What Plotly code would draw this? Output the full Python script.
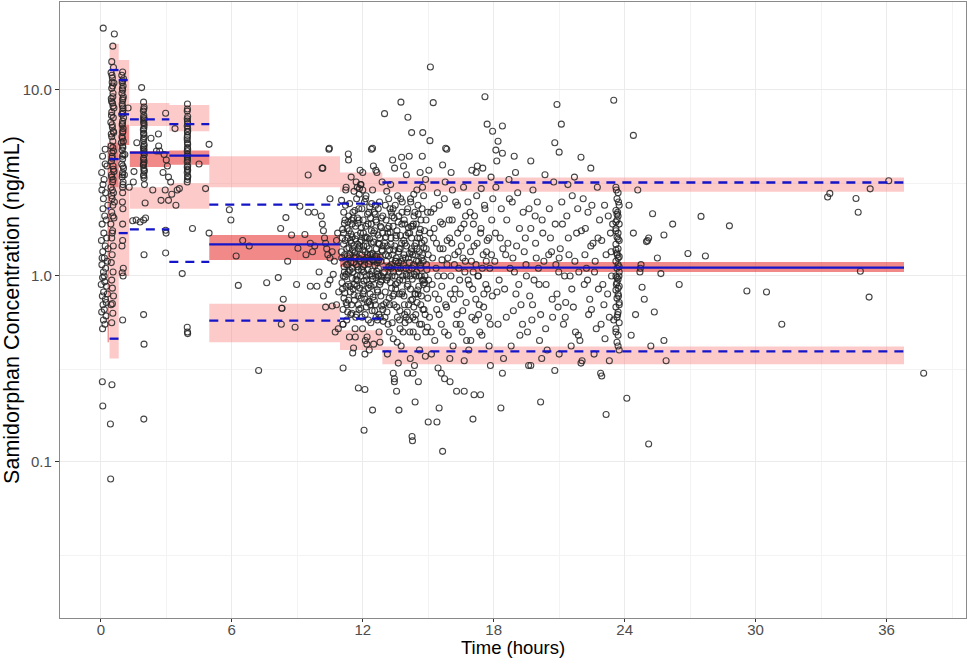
import plotly.graph_objects as go

# ---- binned VPC summary (hours, ng/mL) ----
bin_lo = [0.31, 0.40, 0.82, 1.33, 3.14, 4.97, 10.96, 12.90]
bin_hi = [0.37, 0.82, 1.30, 3.14, 4.97, 10.96, 12.90, 36.80]

# simulated CI of 95th percentile
ci95_lo = [None, 5.2, 6.5, 6.4, 6.0, 3.0, 2.84, 2.84]
ci95_hi = [None, 17.7, 14.5, 8.5, 8.3, 4.4, 3.6, 3.38]
# simulated CI of median
cimed_lo = [0.44, 3.0, 5.06, 3.85, 3.96, 1.22, 1.12, 1.05]
cimed_hi = [5.2, 5.2, 6.5, 4.7, 4.72, 1.66, 1.31, 1.19]
# simulated CI of 5th percentile
ci05_lo = [None, 0.36, 1.0, 2.3, 2.3, 0.44, 0.40, 0.335]
ci05_hi = [None, 3.0, 3.0, 3.0, 3.15, 0.71, 0.51, 0.417]

# observed percentiles
obs_p95 = [None, 12.8, 11.3, 6.95, 6.56, 2.42, 2.45, 3.18]
obs_med = [2.3, 4.25, 7.4, 4.6, 4.44, 1.48, 1.23, 1.11]
obs_p05 = [None, 0.46, 1.7, 1.78, 1.19, 0.575, 0.59, 0.393]

# ---- observed concentrations (time, conc) ----
pts_predose = [
    (0.11, 21.5), (0.04, 3.6), (0.08, 4.4), (0.15, 3.3), (0.2, 4.0), (0.05, 2.9), (0.12, 2.6),
    (0.22, 2.8), (0.28, 3.9), (0.1, 2.3), (0.18, 2.1), (0.06, 1.9), (0.25, 2.0), (0.14, 1.7),
    (0.03, 1.55), (0.2, 1.45), (0.09, 1.35), (0.27, 1.6), (0.16, 1.25), (0.05, 1.15), (0.22, 1.1),
    (0.12, 1.05), (0.3, 1.2), (0.08, 0.98), (0.18, 0.93), (0.02, 0.9), (0.26, 0.88), (0.13, 0.82),
    (0.07, 0.78), (0.21, 0.75), (0.1, 0.7), (0.16, 0.66), (0.04, 0.64), (0.24, 0.61), (0.12, 0.58),
    (0.19, 0.55), (0.08, 0.52), (0.3, 0.8), (0.33, 1.4), (0.32, 2.4), (0.06, 1.25), (0.15, 1.0),
    (0.25, 0.72), (0.1, 3.1), (0.2, 4.8), (0.07, 0.27), (0.09, 0.2), (0.51, 0.26), (0.44, 0.16),
    (0.45, 0.081),
]
pts_half = [
    (0.62, 20.0), (0.55, 17.2), (0.5, 14.2), (0.58, 13.2), (0.47, 12.4), (0.53, 11.6), (0.6, 10.9),
    (0.5, 10.2), (0.56, 9.6), (0.48, 9.0), (0.54, 8.5), (0.6, 8.0), (0.5, 7.6), (0.57, 7.1),
    (0.46, 6.7), (0.53, 6.3), (0.59, 5.9), (0.5, 5.6), (0.55, 5.3), (0.47, 5.0), (0.58, 4.7),
    (0.52, 4.4), (0.49, 4.15), (0.56, 3.9), (0.6, 3.65), (0.5, 3.4), (0.54, 3.2), (0.47, 3.0),
    (0.58, 2.8), (0.52, 2.6), (0.55, 2.4), (0.5, 2.2), (0.6, 2.05), (0.46, 1.9), (0.54, 1.75),
    (0.5, 1.6), (0.57, 1.45), (0.52, 1.3), (0.48, 1.18), (0.56, 1.05), (0.5, 0.95), (0.53, 0.86),
    (0.58, 0.78), (0.47, 0.7), (0.55, 0.63), (0.5, 0.56), (0.52, 11.0), (0.55, 9.2), (0.49, 7.3),
    (0.57, 6.0), (0.51, 4.6), (0.56, 3.3), (0.62, 2.5), (0.53, 0.71),
    (0.51, 12.0), (0.54, 10.5), (0.49, 8.7), (0.56, 8.2), (0.52, 6.5), (0.48, 5.8), (0.55, 4.9),
    (0.51, 4.3), (0.57, 3.75), (0.49, 3.5), (0.53, 2.9), (0.5, 2.7), (0.55, 2.1), (0.52, 1.7),
]
pts_1h = [
    (1.0, 12.5), (0.96, 12.0), (1.04, 11.5), (0.98, 11.0), (1.02, 10.5), (1.0, 10.0), (0.97, 9.6),
    (1.03, 9.2), (1.0, 8.8), (0.98, 8.4), (1.02, 8.0), (1.0, 7.7), (0.96, 7.4), (1.04, 7.1),
    (1.0, 6.8), (0.98, 6.5), (1.02, 6.2), (1.0, 5.9), (0.97, 5.6), (1.03, 5.3), (1.0, 5.0),
    (0.98, 4.75), (1.02, 4.5), (1.0, 4.25), (0.96, 4.0), (1.04, 3.8), (1.0, 3.6), (0.98, 3.4),
    (1.02, 3.2), (1.0, 3.0), (0.99, 2.5), (1.01, 2.3), (1.0, 1.55), (0.97, 1.45), (1.03, 1.1),
    (0.98, 1.04), (1.02, 1.0), (1.0, 0.58), (1.08, 3.5), (1.1, 4.5), (0.94, 5.2),
    (1.0, 11.2), (0.99, 10.2), (1.01, 9.0), (0.99, 8.2), (1.01, 7.5), (0.99, 6.6), (1.01, 6.0),
    (0.99, 5.5), (1.01, 4.9), (0.99, 4.4), (1.01, 3.9), (0.99, 3.5), (1.01, 3.1), (1.0, 2.8),
    (1.0, 1.9),
]
pts_2h = [
    (1.87, 10.3), (1.96, 8.6), (1.98, 8.1), (1.95, 7.7), (1.97, 7.3), (1.99, 7.0), (1.96, 6.7),
    (1.98, 6.4), (1.95, 6.1), (1.97, 5.85), (1.99, 5.6), (1.96, 5.35), (1.98, 5.1), (1.95, 4.9),
    (1.97, 4.7), (1.99, 4.5), (1.96, 4.3), (1.98, 4.1), (1.95, 3.95), (1.97, 3.8), (1.99, 3.65),
    (1.96, 3.5), (1.98, 3.35), (1.97, 6.9), (1.96, 5.8), (1.98, 4.8), (1.97, 4.2), (2.0, 3.1),
    (1.96, 2.0), (1.98, 1.3), (1.96, 0.62), (1.98, 0.43), (1.97, 0.17),
    (1.97, 7.9), (1.96, 7.1), (1.98, 6.6), (1.97, 6.2), (1.96, 5.5), (1.98, 5.0), (1.97, 4.6),
    (1.96, 4.0), (1.98, 3.7), (1.97, 3.45),
]
pts_4h = [
    (3.97, 8.4), (3.96, 7.7), (3.98, 7.2), (3.97, 6.8), (3.96, 6.4), (3.98, 6.0), (3.97, 5.7),
    (3.96, 5.4), (3.98, 5.1), (3.97, 4.9), (3.96, 4.7), (3.98, 4.5), (3.97, 4.3), (3.96, 4.1),
    (3.98, 3.9), (3.97, 3.75), (3.96, 3.6), (3.98, 3.45), (3.97, 3.3), (3.96, 3.2), (3.98, 6.2),
    (3.97, 5.2), (3.96, 4.4), (3.98, 3.7), (3.96, 0.53), (3.97, 0.5), (3.98, 0.49),
    (3.97, 7.9), (3.96, 7.0), (3.98, 6.6), (3.97, 5.95), (3.96, 5.55), (3.98, 4.8), (3.97, 4.2),
    (3.96, 3.85), (3.98, 3.4),
]
pts_1to5h = [
    (1.52, 3.64), (1.49, 3.2), (1.46, 1.98), (1.62, 2.0), (1.8, 1.95), (2.05, 2.05), (2.03, 2.47),
    (2.38, 2.9), (2.64, 5.8), (2.65, 5.0), (2.55, 4.7), (2.7, 4.7), (2.97, 7.5), (2.9, 4.5),
    (3.0, 4.2), (3.05, 3.9), (2.85, 3.6), (3.1, 3.4), (3.2, 3.2), (2.95, 2.9), (3.25, 2.75),
    (3.1, 2.55), (2.76, 2.55), (2.97, 1.76), (2.99, 1.7), (2.97, 1.33), (3.73, 1.03), (3.44, 2.4),
    (3.5, 2.9), (3.6, 2.95), (4.2, 1.8), (4.8, 2.95), (4.96, 5.1), (4.96, 1.7), (1.3, 3.0),
    (1.25, 8.0), (2.3, 5.5), (3.4, 6.2), (4.5, 4.0), (1.65, 5.2),
]
pts_5to11h = [
    (5.89, 2.27), (5.96, 2.0), (6.5, 1.55), (6.2, 1.28), (6.3, 0.89), (8.13, 0.98), (8.24, 1.8),
    (8.48, 2.06), (8.56, 1.2), (8.74, 1.66), (8.97, 0.9), (9.03, 1.41), (9.12, 2.37), (9.35, 1.67),
    (9.5, 3.49), (9.6, 0.88), (9.9, 0.88), (10.17, 3.8), (10.47, 4.86), (10.5, 2.6), (10.4, 0.9),
    (10.5, 0.95), (9.5, 2.2), (9.8, 2.2), (9.4, 1.3), (9.6, 1.5), (9.7, 1.35), (9.8, 1.45),
    (10.1, 2.1), (10.15, 1.9), (10.2, 1.75), (10.25, 1.6), (10.3, 1.5), (10.35, 1.4), (10.4, 1.3),
    (10.5, 1.25), (10.6, 1.35), (10.7, 1.2), (10.8, 1.55), (10.85, 1.7), (8.36, 0.75), (8.29, 0.67),
    (8.27, 0.55), (8.9, 0.53), (8.3, 0.67), (10.3, 0.68), (10.6, 0.69), (10.8, 0.7), (10.74, 0.5),
    (10.88, 0.52), (7.23, 0.31), (10.45, 4.8), (10.14, 3.8), (6.8, 1.45), (7.6, 0.92), (10.0, 1.05),
    (10.65, 1.02), (10.9, 0.82), (10.2, 0.78),
]
pts_11to13h = [
    (11.02, 1.35), (11.05, 0.92), (11.08, 1.78), (11.1, 0.66), (11.13, 2.2), (11.15, 1.12),
    (11.18, 0.81), (11.2, 1.55), (11.22, 2.9), (11.25, 1.02), (11.27, 0.58), (11.3, 1.28),
    (11.32, 1.95), (11.35, 0.74), (11.37, 1.42), (11.4, 2.45), (11.42, 0.88), (11.45, 1.18),
    (11.47, 3.4), (11.5, 0.63), (11.52, 1.62), (11.55, 1.05), (11.57, 2.05), (11.6, 0.79),
    (11.62, 1.33), (11.65, 0.52), (11.67, 1.85), (11.7, 1.15), (11.72, 2.6), (11.75, 0.95),
    (11.77, 1.48), (11.8, 0.7), (11.82, 2.3), (11.85, 1.24), (11.87, 0.86), (11.9, 1.7),
    (11.92, 3.1), (11.95, 1.08), (11.97, 0.6), (12.0, 1.38), (12.02, 2.0), (12.05, 0.83),
    (12.07, 1.22), (12.1, 1.6), (12.12, 0.45), (12.15, 2.7), (12.17, 1.0), (12.2, 1.45),
    (12.22, 0.72), (12.25, 1.9), (12.27, 1.16), (12.3, 0.9), (12.32, 2.35), (12.35, 1.3),
    (12.37, 0.56), (12.4, 1.75), (12.42, 1.06), (12.45, 2.9), (12.47, 0.77), (12.5, 1.52),
    (12.52, 1.2), (12.55, 0.65), (12.57, 2.15), (12.6, 0.98), (12.62, 1.4), (12.65, 3.6),
    (12.67, 0.84), (12.7, 1.66), (12.72, 1.1), (12.75, 0.5), (12.77, 2.5), (12.8, 1.26),
    (12.82, 0.93), (12.85, 1.82), (12.87, 0.69), (12.9, 1.36), (12.92, 2.1), (12.95, 1.04),
    (11.03, 2.55), (11.12, 1.48), (11.19, 0.99), (11.28, 0.7), (11.33, 1.6), (11.41, 1.07),
    (11.48, 2.0), (11.56, 0.85), (11.63, 1.25), (11.71, 0.62), (11.78, 1.92), (11.86, 1.45),
    (11.93, 0.76), (12.01, 1.12), (12.08, 2.5), (12.16, 0.68), (12.23, 1.3), (12.31, 1.58),
    (12.38, 0.88), (12.46, 1.22), (12.53, 2.2), (12.61, 0.6), (12.68, 1.02), (12.76, 1.48),
    (12.83, 0.78), (12.91, 1.7), (11.09, 0.55), (11.24, 3.0), (11.39, 0.47), (11.54, 1.38),
    (11.69, 0.96), (11.84, 2.75), (11.99, 0.52), (12.14, 1.85), (12.29, 0.73), (12.44, 1.0),
    (12.59, 2.4), (12.74, 0.62), (12.89, 3.2), (11.16, 1.92), (11.46, 1.68), (11.76, 1.12),
    (12.06, 0.94), (12.36, 2.05), (12.66, 1.18), (12.94, 0.57), (11.58, 0.41), (12.19, 0.43),
    (12.79, 0.44), (11.88, 3.7), (12.49, 3.9), (11.35, 4.2),
    (11.06, 1.6), (11.11, 1.0), (11.14, 0.76), (11.17, 1.3), (11.21, 2.4), (11.23, 0.88),
    (11.26, 1.15), (11.29, 1.8), (11.31, 0.64), (11.34, 1.05), (11.36, 2.1), (11.38, 1.25),
    (11.43, 0.82), (11.44, 1.55), (11.49, 0.7), (11.51, 1.9), (11.53, 1.1), (11.59, 1.45),
    (11.61, 0.9), (11.64, 2.25), (11.66, 1.35), (11.68, 0.6), (11.73, 1.65), (11.74, 1.0),
    (11.79, 0.78), (11.81, 1.4), (11.83, 2.0), (11.89, 1.2), (11.91, 0.67), (11.94, 1.55),
    (11.96, 2.3), (11.98, 0.9), (12.03, 1.7), (12.04, 1.05), (12.09, 0.75), (12.11, 1.35),
    (12.13, 2.6), (12.18, 0.95), (12.21, 1.6), (12.24, 1.08), (12.26, 0.58), (12.28, 2.2),
    (12.33, 1.2), (12.34, 0.8), (12.39, 1.5), (12.41, 2.45), (12.43, 0.65), (12.48, 1.3),
    (12.51, 0.9), (12.54, 1.75), (12.56, 1.14), (12.58, 0.7), (12.63, 1.95), (12.64, 1.28),
    (12.69, 0.82), (12.71, 2.3), (12.73, 1.0), (12.78, 1.6), (12.81, 0.6), (12.84, 1.2),
    (12.86, 2.05), (12.88, 0.95), (12.93, 1.45), (12.96, 0.7),
]
pts_core_extra = [
    (11.04, 1.25), (11.07, 0.85), (11.12, 1.7), (11.16, 1.05), (11.19, 2.0), (11.24, 0.72),
    (11.27, 1.4), (11.31, 1.15), (11.34, 0.9), (11.38, 1.75), (11.41, 1.3), (11.45, 0.62),
    (11.48, 1.5), (11.52, 0.97), (11.55, 2.2), (11.59, 1.18), (11.62, 0.74), (11.66, 1.58),
    (11.69, 1.28), (11.73, 0.88), (11.76, 2.05), (11.8, 1.08), (11.83, 0.66), (11.87, 1.52),
    (11.9, 1.0), (11.94, 1.82), (11.97, 1.3), (12.01, 0.8), (12.04, 1.45), (12.08, 1.15),
    (12.11, 0.62), (12.15, 1.62), (12.18, 1.25), (12.22, 2.15), (12.25, 0.86), (12.29, 1.4),
    (12.32, 1.02), (12.36, 0.7), (12.39, 1.9), (12.43, 1.32), (12.46, 0.96), (12.5, 1.7),
    (12.53, 0.74), (12.57, 1.28), (12.6, 2.0), (12.64, 1.06), (12.67, 0.58), (12.71, 1.5),
    (12.74, 1.22), (12.78, 0.9), (12.81, 1.85), (12.85, 1.0), (12.88, 1.38), (12.92, 0.66),
    (13.05, 1.3), (13.09, 0.95), (13.14, 1.8), (13.19, 1.12), (13.24, 0.7), (13.29, 1.48),
    (13.34, 1.0), (13.39, 2.3), (13.44, 0.8), (13.49, 1.2), (13.54, 1.65), (13.59, 0.92),
    (13.64, 1.35), (13.69, 0.58), (13.74, 1.1), (13.79, 1.9), (13.84, 1.25), (13.89, 0.78),
    (13.94, 1.5), (13.99, 1.02), (14.04, 0.64), (14.09, 1.82), (14.14, 1.18), (14.19, 0.85),
    (14.24, 1.6), (14.29, 1.3), (14.34, 0.68), (14.39, 2.2), (14.44, 1.0), (14.49, 1.4),
    (14.54, 0.8), (14.59, 1.7), (14.64, 1.15), (14.69, 0.55), (14.74, 1.3), (14.79, 0.95),
]
pts_13to15h = [
    (13.0, 1.05), (13.04, 2.4), (13.08, 0.72), (13.12, 1.45), (13.16, 0.55), (13.2, 1.85),
    (13.24, 1.12), (13.28, 3.1), (13.32, 0.86), (13.36, 1.3), (13.4, 0.46), (13.44, 2.05),
    (13.48, 1.0), (13.52, 1.6), (13.56, 0.68), (13.6, 2.7), (13.64, 1.18), (13.68, 0.8),
    (13.72, 1.4), (13.76, 0.42), (13.8, 2.2), (13.84, 0.95), (13.88, 1.55), (13.92, 0.62),
    (13.96, 1.25), (14.0, 3.5), (14.04, 0.88), (14.08, 1.7), (14.12, 1.08), (14.16, 0.5),
    (14.2, 2.5), (14.24, 1.35), (14.28, 0.75), (14.32, 1.9), (14.36, 1.02), (14.4, 0.58),
    (14.44, 1.5), (14.48, 2.9), (14.52, 0.84), (14.56, 1.2), (14.6, 0.4), (14.64, 1.78),
    (14.68, 1.0), (14.72, 2.3), (14.76, 0.66), (14.8, 1.42), (14.84, 0.92), (14.88, 3.3),
    (14.92, 1.15), (14.96, 0.53), (13.02, 0.6), (13.06, 1.62), (13.1, 2.85), (13.14, 0.98),
    (13.18, 1.28), (13.22, 0.5), (13.26, 1.72), (13.3, 1.1), (13.34, 2.1), (13.38, 0.78),
    (13.42, 1.38), (13.46, 3.8), (13.5, 0.9), (13.54, 1.2), (13.58, 0.44), (13.62, 1.95),
    (13.66, 1.05), (13.7, 0.65), (13.74, 2.6), (13.78, 1.5), (13.82, 0.82), (13.86, 1.15),
    (13.9, 2.0), (13.94, 0.56), (13.98, 1.65), (14.02, 1.0), (14.06, 2.3), (14.1, 0.7),
    (14.14, 1.32), (14.18, 0.36), (14.22, 1.85), (14.26, 1.1), (14.3, 0.6), (14.34, 2.75),
    (14.38, 1.45), (14.42, 0.8), (14.46, 1.2), (14.5, 0.47), (14.54, 2.15), (14.58, 1.0),
    (14.62, 1.6), (14.66, 0.7), (14.7, 1.25), (14.74, 3.0), (14.78, 0.9), (14.82, 1.55),
    (14.86, 0.62), (14.9, 2.0), (14.94, 1.08), (14.98, 0.76), (13.13, 0.38), (13.37, 4.2),
    (13.63, 0.34), (13.87, 3.9), (14.13, 4.4), (14.37, 0.33), (14.63, 3.6), (14.87, 0.37),
    (13.45, 0.28), (14.05, 0.3), (14.55, 0.27), (13.25, 2.3), (13.85, 0.5),
    (13.01, 1.5), (13.03, 0.82), (13.07, 2.0), (13.09, 1.2), (13.11, 0.64), (13.15, 1.7),
    (13.17, 1.0), (13.19, 2.6), (13.21, 0.76), (13.23, 1.38), (13.27, 0.92), (13.29, 1.6),
    (13.31, 2.2), (13.33, 1.15), (13.35, 0.56), (13.39, 1.85), (13.41, 1.05), (13.43, 0.7),
    (13.47, 1.45), (13.49, 2.4), (13.51, 0.85), (13.53, 1.25), (13.57, 1.75), (13.59, 0.6),
    (13.61, 1.1), (13.65, 2.1), (13.67, 1.4), (13.69, 0.95), (13.71, 0.52), (13.73, 1.65),
    (13.77, 1.2), (13.79, 0.8), (13.81, 2.5), (13.83, 1.0), (13.89, 1.3), (13.91, 0.7),
    (13.93, 1.9), (13.97, 1.1), (13.99, 0.6), (14.01, 1.45), (14.03, 2.2), (14.07, 0.9),
    (14.09, 1.25), (14.11, 0.58), (14.15, 1.7), (14.17, 1.0), (14.19, 2.6), (14.21, 0.74),
    (14.23, 1.4), (14.27, 0.96), (14.29, 1.85), (14.31, 0.5), (14.33, 1.15), (14.35, 2.1),
    (14.39, 0.8), (14.41, 1.3), (14.43, 0.62), (14.45, 1.9), (14.47, 1.05), (14.49, 0.72),
    (14.51, 1.6), (14.53, 2.4), (14.57, 0.88), (14.59, 1.35), (14.61, 0.55), (14.65, 1.1),
    (14.67, 2.0), (14.69, 0.78), (14.71, 1.5), (14.73, 0.95), (14.77, 1.2), (14.79, 2.7),
    (14.81, 0.66), (14.83, 1.75), (14.85, 1.0), (14.89, 0.5), (14.91, 1.4), (14.93, 0.85),
    (14.97, 2.2),
]
pts_15to18h = [
    (15.0, 1.3), (15.06, 0.6), (15.12, 2.2), (15.18, 0.9), (15.24, 1.6), (15.3, 0.45), (15.36, 1.1),
    (15.42, 2.8), (15.48, 0.75), (15.54, 1.4), (15.6, 0.55), (15.66, 1.9), (15.72, 1.0),
    (15.78, 3.2), (15.84, 0.68), (15.9, 1.25), (15.96, 2.0), (16.02, 0.8), (16.08, 1.5),
    (16.14, 0.42), (16.2, 1.15), (16.26, 2.5), (16.32, 0.62), (16.38, 1.35), (16.44, 0.95),
    (16.5, 1.8), (16.56, 0.5), (16.62, 3.0), (16.68, 1.05), (16.74, 0.72), (16.8, 1.6),
    (16.86, 0.4), (16.92, 2.2), (16.98, 1.2), (17.04, 0.85), (17.1, 1.45), (17.16, 0.58),
    (17.22, 2.7), (17.28, 1.0), (17.34, 0.7), (17.4, 1.7), (17.46, 0.48), (17.52, 1.3),
    (17.58, 2.4), (17.64, 0.9), (17.7, 1.55), (17.76, 0.6), (17.82, 1.1), (17.88, 3.4),
    (17.94, 0.78), (15.03, 3.7), (15.15, 0.38), (15.27, 1.8), (15.39, 0.66), (15.51, 2.4),
    (15.63, 1.22), (15.75, 0.5), (15.87, 1.55), (15.99, 0.36), (16.11, 2.9), (16.23, 0.85),
    (16.35, 1.7), (16.47, 0.55), (16.59, 1.25), (16.71, 2.1), (16.83, 0.95), (16.95, 0.45),
    (17.07, 1.9), (17.19, 1.15), (17.31, 0.62), (17.43, 2.95), (17.55, 0.8), (17.67, 1.35),
    (17.79, 0.42), (17.91, 2.0), (15.45, 0.32), (16.05, 3.6), (16.65, 0.35), (17.25, 3.9),
    (17.85, 0.33),
    (15.02, 0.95), (15.08, 1.7), (15.14, 0.5), (15.2, 1.25), (15.26, 2.3), (15.32, 0.8),
    (15.38, 1.5), (15.44, 1.0), (15.5, 0.62), (15.56, 1.95), (15.62, 0.88), (15.68, 1.4),
    (15.74, 2.6), (15.8, 0.7), (15.86, 1.15), (15.92, 0.48), (15.98, 1.6), (16.04, 1.0),
    (16.1, 2.0), (16.16, 0.75), (16.22, 1.3), (16.28, 0.55), (16.34, 2.4), (16.4, 1.1),
    (16.46, 0.8), (16.52, 1.45), (16.58, 0.65), (16.64, 1.9), (16.7, 1.2), (16.76, 0.45),
    (16.82, 2.5), (16.88, 0.9), (16.94, 1.35), (17.0, 0.6), (17.06, 1.05), (17.12, 2.1),
    (17.18, 0.75), (17.24, 1.5), (17.3, 1.0), (17.36, 0.5), (17.42, 1.8), (17.48, 1.1),
    (17.54, 0.68), (17.6, 2.3), (17.66, 1.2), (17.72, 0.85), (17.78, 1.6), (17.84, 0.55),
    (17.9, 1.3), (17.96, 2.6),
]
pts_18to24h = [
    (18.05, 1.2), (18.2, 0.55), (18.35, 2.3), (18.5, 0.85), (18.65, 1.5), (18.8, 0.42),
    (18.95, 1.05), (19.1, 2.8), (19.25, 0.7), (19.4, 1.35), (19.55, 0.5), (19.7, 1.8),
    (19.85, 0.95), (20.0, 2.5), (20.15, 0.62), (20.3, 1.2), (20.45, 0.4), (20.6, 1.6),
    (20.75, 3.2), (20.9, 0.8), (21.05, 1.4), (21.2, 0.55), (21.35, 2.1), (21.5, 1.0),
    (21.65, 0.68), (21.8, 1.7), (21.95, 0.45), (22.1, 2.6), (22.25, 1.1), (22.4, 0.75),
    (22.55, 1.5), (22.7, 0.52), (22.85, 2.0), (23.0, 0.9), (23.15, 1.3), (23.3, 0.6),
    (18.1, 3.0), (18.3, 1.6), (18.45, 0.36), (18.6, 2.0), (18.75, 1.1), (18.9, 0.65),
    (19.05, 1.45), (19.2, 0.48), (19.35, 2.2), (19.5, 1.0), (19.65, 0.78), (19.8, 2.9),
    (19.95, 1.25), (20.1, 0.45), (20.25, 1.7), (20.4, 0.9), (20.55, 2.3), (20.7, 0.6),
    (20.85, 1.15), (21.0, 0.38), (21.15, 1.9), (21.3, 0.72), (21.45, 1.3), (21.6, 2.7),
    (21.75, 0.5), (21.9, 1.05), (22.05, 0.35), (22.2, 1.8), (22.35, 0.62), (22.5, 2.4),
    (22.65, 1.2), (22.8, 0.85), (22.95, 1.55), (23.1, 0.46), (23.25, 2.1), (23.4, 1.0),
    (18.15, 0.82), (18.55, 1.3), (18.85, 2.5), (19.15, 0.9), (19.45, 1.6), (19.75, 0.58),
    (20.05, 1.1), (20.35, 3.5), (20.65, 1.35), (20.95, 0.68), (21.25, 1.0), (21.55, 0.42),
    (21.85, 2.3), (22.15, 0.9), (22.45, 1.45), (22.75, 3.0), (23.05, 0.7), (23.35, 1.7),
    (18.4, 0.3), (19.6, 0.33), (20.8, 0.31), (22.0, 0.34), (19.0, 3.6), (21.7, 3.4),
    (18.08, 1.7), (18.25, 0.95), (18.42, 1.4), (18.58, 0.6), (18.72, 2.6), (18.88, 1.25),
    (19.02, 0.8), (19.18, 1.8), (19.32, 0.55), (19.48, 1.15), (19.62, 2.3), (19.78, 0.7),
    (19.92, 1.5), (20.08, 0.9), (20.22, 2.0), (20.38, 0.52), (20.52, 1.3), (20.68, 0.75),
    (20.82, 1.9), (20.98, 1.05), (21.12, 2.5), (21.28, 0.6), (21.42, 1.6), (21.58, 0.85),
    (21.72, 1.2), (21.88, 0.48), (22.02, 1.75), (22.18, 1.3), (22.32, 2.2), (22.48, 0.66),
    (22.62, 1.05), (22.78, 1.6), (22.92, 0.55), (23.08, 2.4), (23.22, 0.8), (23.38, 1.35),
    (23.45, 1.9), (23.5, 0.58), (18.7, 3.3), (20.2, 0.36), (21.4, 3.1), (22.6, 0.38),
    (19.9, 2.1), (21.0, 1.25), (22.3, 0.95),
]
pts_outlying = [
    (11.34, 4.53), (11.6, 2.85), (11.75, 3.0), (11.9, 3.1), (12.0, 2.9), (11.7, 3.2), (11.85, 2.95),
    (12.0, 3.6), (12.4, 4.8), (12.6, 3.7), (11.1, 0.55), (11.1, 0.32), (11.66, 0.47), (11.54, 0.385),
    (11.8, 0.25), (12.1, 0.245), (12.45, 0.19), (12.06, 0.148), (12.1, 0.38), (12.3, 0.4),
    (12.2, 0.47), (12.5, 0.43), (13.0, 7.46), (14.07, 7.13), (15.23, 8.55), (13.75, 8.6),
    (15.1, 13.3), (14.24, 5.9), (14.75, 5.9), (15.08, 5.34), (15.8, 4.86), (15.85, 4.8),
    (12.45, 4.86), (13.78, 4.35), (14.73, 4.4), (15.66, 3.95), (17.7, 6.55), (17.95, 6.0),
    (18.4, 6.4), (18.2, 5.3), (18.1, 4.75), (18.4, 4.57), (18.94, 4.4), (18.14, 4.15),
    (19.7, 4.15), (20.9, 8.35), (21.1, 6.55), (20.8, 5.2), (21.0, 4.63), (22.0, 4.35),
    (22.45, 3.8), (24.4, 5.7), (23.5, 8.8), (17.6, 9.2), (17.2, 3.6), (17.5, 3.8), (17.0, 3.7),
    (13.55, 0.24), (13.66, 0.19), (14.26, 0.137), (14.28, 0.13), (14.4, 0.21), (15.0, 0.164),
    (15.4, 0.164), (15.66, 0.114), (15.5, 0.195), (16.3, 0.24), (16.65, 0.24), (17.1, 0.23),
    (17.4, 0.23), (17.05, 0.17), (18.33, 0.195), (20.15, 0.21), (23.15, 0.18), (24.1, 0.22),
    (22.9, 0.30), (22.95, 0.29), (23.3, 0.35), (19.7, 0.33), (15.6, 0.3), (15.75, 0.28),
    (16.0, 0.27), (13.4, 0.3), (13.45, 0.27), (14.3, 0.30),
]
pts_24h = [
    (23.6, 3.0), (23.7, 2.8), (23.65, 2.6), (23.75, 2.4), (23.6, 2.25), (23.7, 2.1), (23.65, 2.0),
    (23.75, 1.9), (23.6, 1.8), (23.7, 1.7), (23.65, 1.62), (23.75, 1.55), (23.6, 1.48),
    (23.7, 1.4), (23.65, 1.33), (23.75, 1.27), (23.6, 1.2), (23.7, 1.15), (23.65, 1.1),
    (23.75, 1.05), (23.6, 1.0), (23.7, 0.96), (23.65, 0.92), (23.75, 0.88), (23.6, 0.84),
    (23.7, 0.8), (23.65, 0.76), (23.75, 0.72), (23.6, 0.68), (23.7, 0.64), (23.65, 0.6),
    (23.75, 0.56), (23.6, 0.52), (23.7, 0.48), (23.65, 0.44), (23.75, 0.4), (23.6, 1.75),
    (23.7, 1.25), (23.65, 0.98), (23.75, 1.12), (23.6, 1.38), (23.7, 0.86), (23.65, 2.15),
    (23.75, 0.7), (23.62, 2.9), (23.72, 2.5), (23.68, 2.2), (23.6, 1.95), (23.7, 1.58),
    (23.66, 1.3), (23.74, 1.0), (23.62, 0.9), (23.72, 0.78), (23.68, 0.62), (23.6, 0.5),
    (23.7, 0.42),
]
pts_late = [
    (25.28, 2.16), (27.5, 2.09), (28.8, 1.86), (25.0, 1.53), (25.05, 1.55), (25.1, 1.6),
    (25.8, 1.66), (26.9, 1.32), (27.7, 1.28), (24.7, 1.05), (24.75, 1.15), (24.72, 1.1),
    (25.66, 1.03), (24.8, 0.87), (25.36, 0.64), (29.6, 0.83), (30.5, 0.82), (31.2, 0.55),
    (25.2, 0.42), (25.8, 0.45), (25.1, 0.125), (33.3, 2.66), (33.4, 2.78), (34.6, 2.61),
    (34.7, 2.2), (35.25, 2.94), (36.1, 3.25), (34.8, 1.06), (35.2, 0.77), (37.7, 0.30),
    (24.2, 2.4), (24.4, 1.7), (24.5, 0.62), (24.3, 0.48), (24.6, 2.9), (24.9, 0.75),
    (25.5, 1.25), (26.2, 1.9), (26.5, 0.9), (25.9, 0.35),
]

all_pts = (pts_predose + pts_half + pts_1h + pts_2h + pts_4h + pts_1to5h + pts_5to11h
           + pts_11to13h + pts_core_extra + pts_13to15h + pts_15to18h + pts_18to24h
           + pts_outlying + pts_24h + pts_late)
obs_time = [p[0] for p in all_pts]
obs_conc = [p[1] for p in all_pts]


def rect_path(lo, hi):
    xs, ys = [], []
    for x0, x1, y0, y1 in zip(bin_lo, bin_hi, lo, hi):
        if y0 is None:
            continue
        xs += [x0, x1, x1, x0, x0, None]
        ys += [y0, y0, y1, y1, y0, None]
    return xs, ys


def seg_path(vals):
    xs, ys = [], []
    for x0, x1, v in zip(bin_lo, bin_hi, vals):
        if v is None:
            continue
        xs += [x0, x1, None]
        ys += [v, v, None]
    return xs, ys


fig = go.Figure()

light = "rgba(250,128,128,0.42)"
dark = "rgba(230,40,40,0.55)"
for lo, hi, col in [(ci95_lo, ci95_hi, light), (ci05_lo, ci05_hi, light), (cimed_lo, cimed_hi, dark)]:
    xs, ys = rect_path(lo, hi)
    fig.add_trace(go.Scatter(x=xs, y=ys, mode="lines", fill="toself", fillcolor=col,
                             line=dict(width=0), hoverinfo="skip", showlegend=False))

fig.add_trace(go.Scatter(x=obs_time, y=obs_conc, mode="markers", showlegend=False,
                         marker=dict(symbol="circle-open", size=6,
                                     color="rgba(35,35,35,0.85)", line=dict(width=1.1))))

blue = "#1414C8"
for vals, dash in [(obs_p95, "9px,7px"), (obs_p05, "9px,7px"), (obs_med, "solid")]:
    xs, ys = seg_path(vals)
    fig.add_trace(go.Scatter(x=xs, y=ys, mode="lines", showlegend=False, hoverinfo="skip",
                             line=dict(color=blue, width=2.3, dash=dash)))

font_family = "Liberation Sans, Arial, sans-serif"
tick_font = dict(family=font_family, size=15, color="#4D4D4D")

fig.update_layout(
    width=969, height=660,
    margin=dict(l=60, r=3, t=2, b=42),
    paper_bgcolor="white", plot_bgcolor="white",
    xaxis=dict(range=[-1.87, 39.64], tickvals=[0, 6, 12, 18, 24, 30, 36], automargin=False,
               ticks="outside", ticklen=3, tickcolor="#333333", tickfont=tick_font,
               ticklabelstandoff=-5,
               showline=True, linecolor="#8a8a8a", linewidth=1.2, mirror=True,
               showgrid=True, gridcolor="#EBEBEB", gridwidth=1, zeroline=False,
               minor=dict(tickvals=[3, 9, 15, 21, 27, 33, 39], showgrid=True,
                          gridcolor="#F3F3F3", gridwidth=0.8, ticks="")),
    yaxis=dict(type="log", range=[-1.839, 1.473], tickvals=[0.1, 1, 10], automargin=False,
               ticktext=["0.1", "1.0", "10.0"],
               ticks="outside", ticklen=4, tickcolor="#333333", tickfont=tick_font,
               showline=True, linecolor="#8a8a8a", linewidth=1.2, mirror=True,
               showgrid=True, gridcolor="#EBEBEB", gridwidth=1, zeroline=False,
               minor=dict(tickvals=[0.0316, 0.316, 3.16], showgrid=True,
                          gridcolor="#F3F3F3", gridwidth=0.8, ticks=""),
               title=dict(text="Samidorphan Concentration (ng/mL)",
                          font=dict(family=font_family, size=21.5, color="black"), standoff=3)),
    annotations=[dict(text="Time (hours)", xref="paper", yref="paper", x=0.5, y=-0.0682,
                      xanchor="center", yanchor="bottom", showarrow=False,
                      font=dict(family=font_family, size=18.5, color="black"))],
)

# the page is photographed edge to edge, so drop the default body margin
fig.write_html("out.html", config={"displayModeBar": False},
               post_script="document.body.style.margin='0px';")
